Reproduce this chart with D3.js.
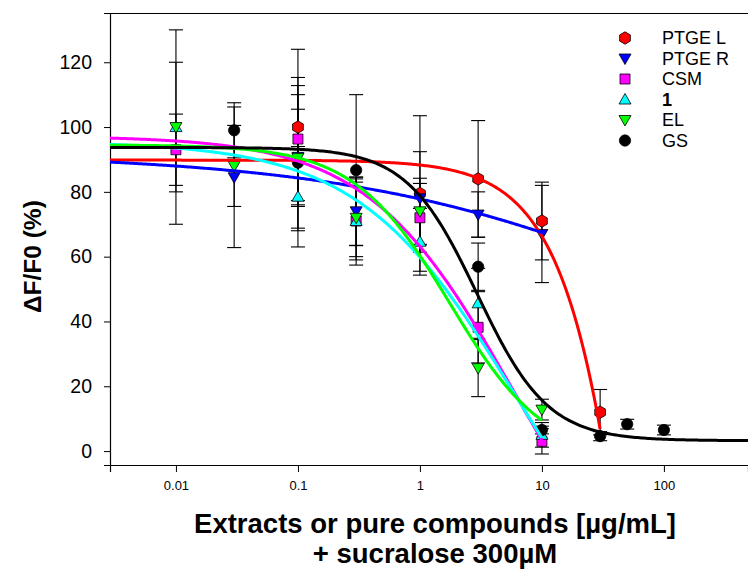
<!DOCTYPE html>
<html>
<head>
<meta charset="utf-8">
<script src="https://cdn.jsdelivr.net/npm/d3@7"></script>
<style>
  body { margin: 0; background: #fff; }
  svg { font-family: "Liberation Sans", Arial, sans-serif; }
</style>
</head>
<body>
<div id="container"></div>
<script>
/* CONSTANTS AND GLOBALS */
const width = 748,
  height = 571,
  margin = { top: 13, bottom: 106, left: 110, right: 0 };

/* DATA */
const seriesNames = ["PTGE L", "PTGE R", "CSM", "1", "EL", "GS"];

const concPTGEL = [0.1, 1, 3, 10, 30];
const respPTGEL = [100, 79.5, 84, 71, 12];
const errPTGEL = [24, 24, 18, 12, 7];

const concPTGER = [0.03, 0.1, 0.3, 1, 3, 10];
const respPTGER = [84.5, 90.8, 74, 78, 73, 67];
const errPTGER = [21.7, 22, 10.5, 14.4, 7, 15];

const concCSM = [0.01, 0.1, 0.3, 1, 3, 10];
const respCSM = [93, 96.3, 71, 72, 38.2, 3];
const errCSM = [11, 19, 12, 10.6, 11, 3.9];

const conc1 = [0.01, 0.1, 0.3, 1, 3, 10];
const resp1 = [100, 78.5, 71, 64.6, 45.6, 5];
const err1 = [20, 15.5, 13.6, 10.3, 10.8, 3.8];

const concEL = [0.01, 0.03, 0.1, 0.3, 1, 3, 10];
const respEL = [100, 88, 90.5, 72, 74, 25.6, 12.8];
const errEL = [30, 12.5, 15, 12, 10.2, 8.8, 3.2];

const concGS = [0.03, 0.1, 0.3, 3, 10, 30, 50, 100];
const respGS = [99, 89, 86.7, 56.9, 6.5, 4.6, 8.3, 6.5];
const errGS = [8.5, 21, 23.3, 7.3, 1.2, 1.4, 1.5, 1.5];

// fitted 4-parameter logistic curves: [top, bottom, EC50, hill, last x]
const fitPTGEL = [89.8, -1000, 240, 1.2, 30];
const fitPTGER = [92, 0, 290, 0.3, 10];
const fitCSM = [97.2, -60, 5.84, 0.728, 10];
const fit1 = [95.5, -60, 5.94, 0.68, 10];
const fitEL = [94.5, -3, 1.75, 1.1, 10];
const fitGS = [93.7, 3.2, 2.95, 1.5, 500];

const xTicks = [0.01, 0.1, 1, 10, 100];
const xTickLabels = ["0.01", "0.1", "1", "10", "100"];
const yTicks = [0, 20, 40, 60, 80, 100, 120];

/* SERIES SETUP */
const series = [
  { name: "PTGE L", conc: concPTGEL, resp: respPTGEL, err: errPTGEL, fit: fitPTGEL, color: "#ff0000", symbol: "hex" },
  { name: "PTGE R", conc: concPTGER, resp: respPTGER, err: errPTGER, fit: fitPTGER, color: "#0000ff", symbol: "tridown" },
  { name: "CSM", conc: concCSM, resp: respCSM, err: errCSM, fit: fitCSM, color: "#ff00ff", symbol: "square" },
  { name: "1", conc: conc1, resp: resp1, err: err1, fit: fit1, color: "#00ffff", symbol: "triup" },
  { name: "EL", conc: concEL, resp: respEL, err: errEL, fit: fitEL, color: "#00ff00", symbol: "tridown" },
  { name: "GS", conc: concGS, resp: respGS, err: errGS, fit: fitGS, color: "#000000", symbol: "circle" },
];

const svg = d3.select("#container")
  .append("svg")
  .attr("width", width)
  .attr("height", height);

// SCALES
const xMin = 0.00288, xMax = 489;
const xScale = d3.scaleLog()
  .domain([xMin, xMax])
  .range([margin.left, width - margin.right]);

const yScale = d3.scaleLinear()
  .domain([-4.3, 135.2])
  .range([height - margin.bottom, margin.top]);

// symbol path generator
function symbolPath(type) {
  if (type === "hex") {
    const r = 6.2;
    const pts = d3.range(6).map(i => {
      const a = Math.PI / 6 + i * Math.PI / 3;
      return [r * Math.cos(a), r * Math.sin(a)];
    });
    return "M" + pts.map(p => p.join(",")).join("L") + "Z";
  }
  if (type === "tridown") return "M-6,-4.5L6,-4.5L0,6Z";
  if (type === "triup") return "M-6,4.5L6,4.5L0,-6Z";
  if (type === "square") return "M-5,-5L5,-5L5,5L-5,5Z";
  return d3.symbol(d3.symbolCircle, 100)();
}

// FRAME
const plotTop = margin.top, plotBottom = height - margin.bottom;
svg.append("line")
  .attr("x1", margin.left).attr("x2", width)
  .attr("y1", plotTop + 0.5).attr("y2", plotTop + 0.5)
  .attr("stroke", "black").attr("stroke-width", 1.2);

// AXES
const xAxis = d3.axisBottom(xScale)
  .tickValues(xTicks)
  .tickFormat((d, i) => xTickLabels[i])
  .tickSizeOuter(0)
  .tickSize(7)
  .tickPadding(9);

const gx = svg.append("g")
  .attr("transform", `translate(0,${plotBottom})`)
  .call(xAxis);
gx.select(".domain").attr("stroke-width", 1.2);
gx.selectAll("text").attr("font-size", 13).attr("fill", "black")
  .attr("font-family", "Liberation Sans, Arial, sans-serif");

const yAxis = d3.axisLeft(yScale)
  .tickValues(yTicks)
  .tickSizeOuter(0)
  .tickSize(6)
  .tickPadding(12);

const gy = svg.append("g")
  .attr("transform", `translate(${margin.left},0)`)
  .call(yAxis);
gy.select(".domain").attr("stroke-width", 1.2);
gy.selectAll("text").attr("font-size", 19.5).attr("fill", "black")
  .attr("font-family", "Liberation Sans, Arial, sans-serif");

// AXIS TITLES
svg.append("text")
  .attr("transform", `translate(32,${yScale(60)}) rotate(-90)`)
  .attr("text-anchor", "middle")
  .attr("dominant-baseline", "central")
  .attr("font-size", 24.5)
  .attr("font-weight", "bold")
  .text("ΔF/F0 (%)");

svg.append("text")
  .attr("x", 435).attr("y", 533)
  .attr("text-anchor", "middle")
  .attr("font-size", 27.5)
  .attr("font-weight", "bold")
  .text("Extracts or pure compounds [µg/mL]");

svg.append("text")
  .attr("x", 435).attr("y", 563)
  .attr("text-anchor", "middle")
  .attr("font-size", 27.5)
  .attr("font-weight", "bold")
  .text("+ sucralose 300µM");

// PLOT CONTENT
const plot = svg.append("g");

// error bars
series.forEach(s => {
  const pts = s.conc.map((c, i) => ({ c, y: s.resp[i], e: s.err[i] }));
  const g = plot.append("g");
  g.selectAll("line.v").data(pts).enter().append("line")
    .attr("x1", d => xScale(d.c)).attr("x2", d => xScale(d.c))
    .attr("y1", d => yScale(d.y - d.e)).attr("y2", d => yScale(d.y + d.e))
    .attr("stroke", "black").attr("stroke-width", 1.1);
  ["top", "bot"].forEach(k => {
    g.selectAll("line." + k).data(pts).enter().append("line")
      .attr("x1", d => xScale(d.c) - 7).attr("x2", d => xScale(d.c) + 7)
      .attr("y1", d => yScale(k === "top" ? d.y + d.e : d.y - d.e))
      .attr("y2", d => yScale(k === "top" ? d.y + d.e : d.y - d.e))
      .attr("stroke", "black").attr("stroke-width", 1.1);
  });
});

// markers
series.forEach(s => {
  plot.append("g").selectAll("path")
    .data(s.conc.map((c, i) => ({ c, y: s.resp[i] })))
    .enter().append("path")
    .attr("d", symbolPath(s.symbol))
    .attr("transform", d => `translate(${xScale(d.c)},${yScale(d.y)})`)
    .attr("fill", s.color)
    .attr("stroke", "black")
    .attr("stroke-width", 0.8);
});

// fitted curves
function logistic(p, x) {
  const [top, bottom, ec50, hill] = p;
  return bottom + (top - bottom) / (1 + Math.pow(x / ec50, hill));
}

const lineGen = d3.line()
  .x(d => xScale(d[0]))
  .y(d => yScale(d[1]));

series.forEach(s => {
  const xEnd = Math.min(s.fit[4], xMax);
  const n = 300;
  const lo = Math.log10(xMin), hi = Math.log10(xEnd);
  const pts = d3.range(n + 1).map(i => {
    const x = Math.pow(10, lo + (hi - lo) * i / n);
    return [x, logistic(s.fit, x)];
  });
  plot.append("path")
    .attr("d", lineGen(pts))
    .attr("fill", "none")
    .attr("stroke", s.color)
    .attr("stroke-width", 3);
});

// LEGEND
const legend = svg.append("g");
series.forEach((s, i) => {
  const ly = 38 + i * 20.5;
  legend.append("path")
    .attr("d", symbolPath(s.symbol))
    .attr("transform", `translate(625,${ly})`)
    .attr("fill", s.color)
    .attr("stroke", "black")
    .attr("stroke-width", 0.8);
  legend.append("text")
    .attr("x", 662).attr("y", ly)
    .attr("dominant-baseline", "central")
    .attr("font-size", 18)
    .attr("font-weight", s.name === "1" ? "bold" : "normal")
    .text(s.name);
});
</script>
</body>
</html>
